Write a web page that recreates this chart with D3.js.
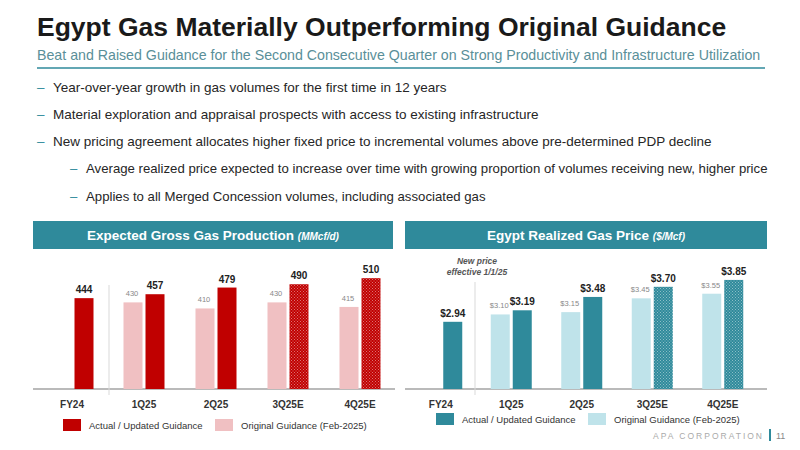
<!DOCTYPE html>
<html>
<head>
<meta charset="utf-8">
<script src="https://d3js.org/d3.v7.min.js"></script>
<style>
  body { margin: 0; background: #fff; }
  text { font-family: "Liberation Sans", Arial, sans-serif; }
</style>
</head>
<body>
<script>
  // chart data
  var categories = ["FY24", "1Q25", "2Q25", "3Q25E", "4Q25E"];
  var gasActual = [444, 457, 479, 490, 510];
  var gasOriginal = [null, 430, 410, 430, 415];
  var priceActual = [2.94, 3.19, 3.48, 3.70, 3.85];
  var priceOriginal = [null, 3.10, 3.15, 3.45, 3.55];
  var estimated = [false, false, false, true, true];
  var bullets = [
    "Year-over-year growth in gas volumes for the first time in 12 years",
    "Material exploration and appraisal prospects with access to existing infrastructure",
    "New pricing agreement allocates higher fixed price to incremental volumes above pre-determined PDP decline"
  ];
  var subBullets = [
    "Average realized price expected to increase over time with growing proportion of volumes receiving new, higher price",
    "Applies to all Merged Concession volumes, including associated gas"
  ];

  var teal = "#2f8a9b";
  var svg = d3.select("body").append("svg").attr("width", 800).attr("height", 450);

  var defs = svg.append("defs");
  function hatch(id, color) {
    var p = defs.append("pattern").attr("id", id).attr("patternUnits", "userSpaceOnUse")
      .attr("width", 3).attr("height", 3);
    p.append("rect").attr("width", 3).attr("height", 3).attr("fill", color);
    p.append("rect").attr("width", 1).attr("height", 1).attr("fill", "#fff").attr("opacity", 0.45);
    p.append("rect").attr("x", 1.5).attr("y", 1.5).attr("width", 1).attr("height", 1).attr("fill", "#fff").attr("opacity", 0.45);
  }
  hatch("hatchRed", "#c00000");
  hatch("hatchTeal", "#2f8a9b");

  // title block
  svg.append("text").attr("x", 37).attr("y", 36).attr("font-size", 26.5).attr("font-weight", "bold")
    .attr("fill", "#1a1a1a").text("Egypt Gas Materially Outperforming Original Guidance");
  svg.append("text").attr("x", 37).attr("y", 60).attr("font-size", 14.2).attr("fill", "#5a8f99")
    .text("Beat and Raised Guidance for the Second Consecutive Quarter on Strong Productivity and Infrastructure Utilization");
  svg.append("line").attr("x1", 37).attr("x2", 765).attr("y1", 68).attr("y2", 68)
    .attr("stroke", teal).attr("stroke-width", 1.5);

  bullets.forEach(function(b, i) {
    var y = 92 + i * 27;
    svg.append("text").attr("x", 37).attr("y", y).attr("font-size", 13.5).attr("fill", teal).text("–");
    svg.append("text").attr("x", 53).attr("y", y).attr("font-size", 13.5).attr("fill", "#262626").text(b);
  });
  subBullets.forEach(function(b, i) {
    var y = 173 + i * 28;
    svg.append("text").attr("x", 70).attr("y", y).attr("font-size", 13.2).attr("fill", teal).text("–");
    svg.append("text").attr("x", 86).attr("y", y).attr("font-size", 13.2).attr("fill", "#262626").text(b);
  });

  function drawChart(o) {
    var g = svg.append("g");
    g.append("rect").attr("x", o.bandX).attr("y", 221).attr("width", o.bandW).attr("height", 28).attr("fill", teal);
    var t = g.append("text").attr("x", o.bandX + o.bandW / 2).attr("y", 240).attr("text-anchor", "middle")
      .attr("fill", "#fff").attr("font-size", 13.5).attr("font-weight", "bold").text(o.title + " ");
    t.append("tspan").attr("font-size", 10).attr("font-style", "italic").text(o.unit);

    var x = d3.scaleBand().domain(categories).range(o.range);
    var y = d3.scaleLinear().domain(o.domain).range([389, 250]);
    var bw = 19;

    g.append("line").attr("x1", o.bandX).attr("x2", o.axisEnd).attr("y1", 389).attr("y2", 389)
      .attr("stroke", "#777").attr("stroke-width", 1.2);
    g.append("line").attr("x1", o.sepX).attr("x2", o.sepX).attr("y1", o.sepTop).attr("y2", 395)
      .attr("stroke", "#d9d9d9");

    var xa = d3.axisBottom(x).tickSize(0);
    var ax = g.append("g").attr("transform", "translate(0,389)").call(xa);
    ax.select(".domain").remove();
    ax.selectAll("text").attr("font-size", 10).attr("font-weight", "bold").attr("fill", "#333")
      .attr("dy", "1.6em").style("font-family", "Liberation Sans, Arial, sans-serif");

    categories.forEach(function(c, i) {
      var cx = x(c) + x.bandwidth() / 2;
      var ax0 = o.orig[i] == null ? cx + 12 - bw / 2 : cx + 1.5;
      var ya = y(o.actual[i]);
      g.append("rect").attr("x", ax0).attr("y", ya).attr("width", bw).attr("height", 389 - ya)
        .attr("fill", estimated[i] ? "url(#" + o.hatch + ")" : o.dark);
      g.append("text").attr("x", ax0 + bw / 2).attr("y", ya - 5).attr("text-anchor", "middle")
        .attr("font-size", 10).attr("font-weight", "bold").attr("fill", "#222").text(o.fmt(o.actual[i]));
      if (o.orig[i] != null) {
        var yo = y(o.orig[i]);
        var ox = cx - 1.5 - bw;
        g.append("rect").attr("x", ox).attr("y", yo).attr("width", bw).attr("height", 389 - yo).attr("fill", o.light);
        g.append("text").attr("x", ox + bw / 2 - 1).attr("y", yo - 6).attr("text-anchor", "middle")
          .attr("font-size", 7.5).attr("fill", "#888").text(o.fmt(o.orig[i]));
      }
    });

    // legend
    var lg = g.append("g").attr("transform", "translate(0," + o.legY + ")");
    lg.append("rect").attr("x", o.legX).attr("width", 18).attr("height", 12).attr("fill", o.dark);
    lg.append("text").attr("x", o.legX + 26).attr("y", 10).attr("font-size", 9.5).attr("fill", "#333")
      .text("Actual / Updated Guidance");
    lg.append("rect").attr("x", o.legX + 152).attr("width", 18).attr("height", 12).attr("fill", o.light);
    lg.append("text").attr("x", o.legX + 178).attr("y", 10).attr("font-size", 9.5).attr("fill", "#333")
      .text("Original Guidance (Feb-2025)");
  }

  drawChart({
    bandX: 33, bandW: 360, axisEnd: 395, range: [36, 396], sepX: 109,
    title: "Expected Gross Gas Production", unit: "(MMcf/d)",
    domain: [144, 603], actual: gasActual, orig: gasOriginal, dark: "#c00000", light: "#f0c0c2",
    hatch: "hatchRed", sepTop: 285, legX: 63, legY: 419,
    fmt: function(v) { return d3.format("d")(v); }
  });
  drawChart({
    bandX: 405, bandW: 362, axisEnd: 767, range: [405.5, 758], sepX: 475,
    title: "Egypt Realized Gas Price", unit: "($/Mcf)",
    domain: [1.48, 4.5], actual: priceActual, orig: priceOriginal, dark: "#2f8a9b", light: "#bfe3ea",
    hatch: "hatchTeal", sepTop: 282, legX: 436, legY: 413,
    fmt: function(v) { return "$" + d3.format(".2f")(v); }
  });

  svg.append("text").attr("x", 477).attr("y", 264).attr("text-anchor", "middle").attr("font-size", 8.5)
    .attr("font-weight", "bold").attr("font-style", "italic").attr("fill", "#555").text("New price");
  svg.append("text").attr("x", 477).attr("y", 275).attr("text-anchor", "middle").attr("font-size", 8.5)
    .attr("font-weight", "bold").attr("font-style", "italic").attr("fill", "#555").text("effective 1/1/25");

  // footer
  svg.append("text").attr("x", 764).attr("y", 439).attr("text-anchor", "end").attr("font-size", 8.5)
    .attr("letter-spacing", 2).attr("fill", "#aaa").text("APA CORPORATION");
  svg.append("line").attr("x1", 770).attr("x2", 770).attr("y1", 429).attr("y2", 441).attr("stroke", teal).attr("stroke-width", 2);
  svg.append("text").attr("x", 776).attr("y", 439).attr("font-size", 9).attr("fill", "#888").text("11");
</script>
</body>
</html>
